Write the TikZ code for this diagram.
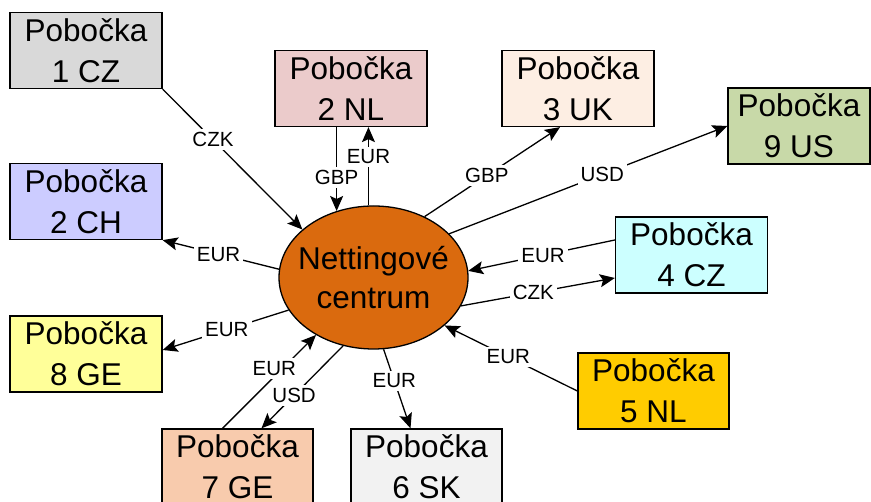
\documentclass[tikz,border=0pt]{standalone}
\usepackage{fontspec}
\setmainfont{Liberation Sans}
\usetikzlibrary{shapes.geometric,arrows.meta,calc}

\definecolor{cCZa}{HTML}{D9D9D9}
\definecolor{cNL}{HTML}{EBCBCB}
\definecolor{cUK}{HTML}{FDEEE3}
\definecolor{cUS}{HTML}{C8D9A8}
\definecolor{cCH}{HTML}{CCCCFF}
\definecolor{cCZb}{HTML}{CCFFFF}
\definecolor{cNLb}{HTML}{FFCC00}
\definecolor{cSK}{HTML}{F2F2F2}
\definecolor{cGEa}{HTML}{F8CBAD}
\definecolor{cGEb}{HTML}{FFFF99}
\definecolor{cCenter}{HTML}{DA6A0E}

\tikzset{
  branch/.style={draw=black, line width=1.3pt, rectangle, align=center, inner sep=0pt,
    minimum width=152pt, minimum height=76pt,
    font=\fontsize{31.5}{41}\selectfont},
  hub/.style={draw=black, line width=1.3pt, ellipse, inner sep=0pt,
    fill=cCenter, minimum width=189pt, minimum height=143pt},
  hubtext/.style={align=center, inner sep=0pt, font=\fontsize{31.5}{39}\selectfont},
  flow/.style={line width=1.3pt, -{Stealth[length=15pt,width=13pt,inset=3pt]}},
  cur/.style={fill=white, inner sep=3pt, font=\fontsize{20.5}{20.5}\selectfont}
}

\begin{document}
\begin{tikzpicture}[x=1pt,y=1pt]
\useasboundingbox (0,0) rectangle (871,502);

% branches
\node[branch, fill=cCZa] (b1cz) at (86,451.5) {Pobočka\\1 CZ};
\node[branch, fill=cCH]  (b2ch) at (86,300.5) {Pobočka\\2 CH};
\node[branch, fill=cNL]  (b2nl) at (351,413.5) {Pobočka\\2 NL};
\node[branch, fill=cUK]  (b3uk) at (578,413.5) {Pobočka\\3 UK};
\node[branch, fill=cUS, minimum width=142pt] (b9us) at (799,376) {Pobočka\\9 US};
\node[branch, fill=cCZb] (b4cz) at (691.5,247) {Pobočka\\4 CZ};
\node[branch, fill=cNLb, minimum width=151pt] (b5nl) at (653.5,111) {Pobočka\\5 NL};
\node[branch, fill=cSK, minimum width=151pt]  (b6sk) at (426.5,35) {Pobočka\\6 SK};
\node[branch, fill=cGEa, minimum width=151pt] (b7ge) at (237.5,35) {Pobočka\\7 GE};
\node[branch, fill=cGEb] (b8ge) at (86,148) {Pobočka\\8 GE};

% netting centre
\node[hub] (nc) at (373.5,224.5) {};
\node[hubtext] (nctext) at (nc.center) {Nettingové\\centrum};

% payment flows
\draw[flow] (b1cz.south east) -- node[cur, pos=0.36] {CZK} (nc.146);
\draw[flow] (nc.119 |- b2nl.south) -- node[cur, pos=0.6] {GBP} (nc.119);
\draw[flow] (nc.94) -- node[cur, pos=0.62] {EUR} (nc.94 |- b2nl.south);
\draw[flow] (nc.50) -- node[cur, pos=0.46] {GBP} ($(b3uk.south)+(-18,0)$);
\draw[flow] (nc.30) -- node[cur, pos=0.55] {USD} (b9us.west);
\draw[flow] ($(b4cz.west)+(0,15)$) -- node[cur, pos=0.49] {EUR} (nc.4);
\draw[flow] (nc.-18) -- node[cur, pos=0.47] {CZK} ($(b4cz.west)+(0,-23)$);
\draw[flow] (b5nl.west) -- node[cur, pos=0.52] {EUR} (nc.-34);
\draw[flow] (nc.-82) -- node[cur, pos=0.4] {EUR} ($(b6sk.north)+(-16,0)$);
\draw[flow] (nc.246) -- node[cur, pos=0.6] {USD} ($(b7ge.north)+(24,0)$);
\draw[flow] ($(b7ge.north)+(-15,0)$) -- node[cur, pos=0.64, xshift=-8pt] {EUR} (nc.225);
\draw[flow] (nc.201) -- node[cur, pos=0.49] {EUR} ($(b8ge.east)+(0,4)$);
\draw[flow] (nc.175) -- node[cur, pos=0.52] {EUR} (b2ch.south east);
\end{tikzpicture}
\end{document}
